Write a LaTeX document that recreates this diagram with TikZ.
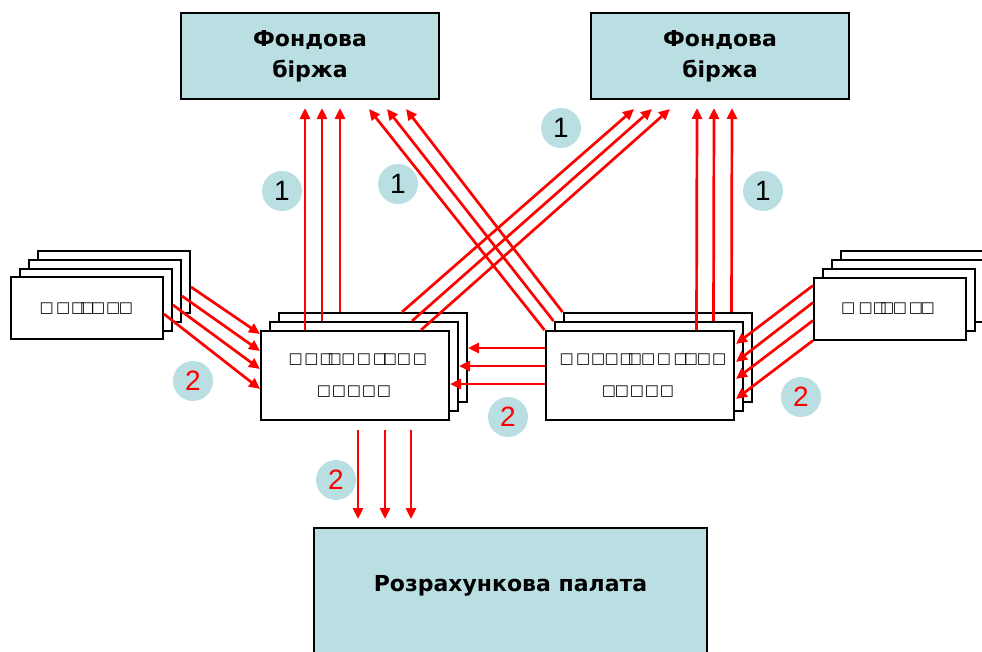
\documentclass[tikz,border=0pt]{standalone}
\usepackage{fontspec}
\setmainfont{DejaVu Sans}
\newfontfamily\numfont{Liberation Sans}
\newfontfamily\glyphfont{DejaVu Sans}
\usetikzlibrary{arrows.meta}
\definecolor{boxblue}{HTML}{BADFE3}
\definecolor{arrred}{HTML}{FF0000}
\begin{document}
\begin{tikzpicture}[x=1pt,y=-1pt,
  hub/.style={draw=black, line width=2pt, fill=boxblue, inner sep=0pt,
    font=\bfseries\fontsize{22}{31}\selectfont, align=center},
  card/.style={draw=black, line width=2pt, fill=white, inner sep=0pt,
    minimum width=188pt, minimum height=89pt},
  minicard/.style={draw=black, line width=2pt, fill=white, inner sep=0pt,
    minimum width=152pt, minimum height=62pt},
  tofu/.style={font=\glyphfont\bfseries\fontsize{15}{15}\selectfont, inner sep=0pt},
  flow/.style={draw=arrred, line width=2.7pt, -{Triangle[length=11pt,width=10pt]}},
  badge/.style={circle, fill=boxblue, minimum size=40pt, inner sep=0pt,
    font=\numfont\fontsize{28}{28}\selectfont},
]
\useasboundingbox (0,0) rectangle (982,651);
\clip (0,0) rectangle (982,651);

% top and bottom boxes
\node[hub, minimum width=258pt, minimum height=86pt] (fbL) at (310,56) {Фондова\\біржа};
\node[hub, minimum width=258pt, minimum height=86pt] (fbR) at (720,56) {Фондова\\біржа};
\node[hub, minimum width=393pt, text height=63pt, text depth=117pt, anchor=north] (rp) at (510.5,527) {Розрахункова палата};

% left small stack
\node[minicard] (ls4) at (114,282) {};
\node[minicard] (ls3) at (105,291) {};
\node[minicard] (ls2) at (96,300) {};
\node[minicard] (ls1) at (87,308) {};
% right small stack
\node[minicard] (rs4) at (917,282) {};
\node[minicard] (rs3) at (908,291) {};
\node[minicard] (rs2) at (899,300) {};
\node[minicard] (rs1) at (890,308.5) {};
% left centre stack
\node[card] (lc3) at (373,357.5) {};
\node[card] (lc2) at (364,366.5) {};
\node[card] (lc1) at (355,375.5) {};
% right centre stack
\node[card] (rc3) at (657.5,357.5) {};
\node[card] (rc2) at (648.5,366.5) {};
\node[card] (rc1) at (639.5,375.5) {};

% unreadable glyphs
\foreach \x [count=\i] in {46.7,63.3,78.3,87.3,98.3,113.3,126}
  \node[tofu] (lsA\i) at (\x,309) {□};
\foreach \x [count=\i] in {848.3,865.7,880,887.3,900,916,927.7}
  \node[tofu] (rsA\i) at (\x,309) {□};
\foreach \x [count=\i] in {295.8,311.5,326.8,334.7,348.5,364,380,390,404,420}
  \node[tofu] (lcA\i) at (\x,360) {□};
\foreach \x [count=\i] in {324,339,354,369,384}
  \node[tofu] (lcB\i) at (\x,392) {□};
\foreach \x [count=\i] in {566.7,583.3,598.3,611.7,626.7,635,648.3,664,680.7,691,704,719.3}
  \node[tofu] (rcA\i) at (\x,360) {□};
\foreach \x [count=\i] in {609,622,637,652,667}
  \node[tofu] (rcB\i) at (\x,392) {□};

% vertical arrows up (left)
\draw[flow] ([xshift=45pt]lc1.north west) -- ([xshift=125pt,yshift=-8pt]fbL.south west);
\draw[flow] ([xshift=53pt]lc2.north west) -- ([xshift=142pt,yshift=-8pt]fbL.south west);
\draw[flow] ([xshift=62pt]lc3.north west) -- ([xshift=160pt,yshift=-8pt]fbL.south west);
% vertical arrows up (right)
\draw[flow] ([xshift=152pt]rc1.north west) -- ([xshift=107pt,yshift=-8pt]fbR.south west);
\draw[flow] ([xshift=160pt]rc2.north west) -- ([xshift=124pt,yshift=-8pt]fbR.south west);
\draw[flow] ([xshift=169pt]rc3.north west) -- ([xshift=142pt,yshift=-8pt]fbR.south west);
% diagonals left centre -> right exchange
\draw[flow] ([xshift=124pt]lc3.north west) -- ([xshift=44pt,yshift=-9pt]fbR.south west);
\draw[flow] ([xshift=143pt]lc2.north west) -- ([xshift=62pt,yshift=-9pt]fbR.south west);
\draw[flow] ([xshift=161pt]lc1.north west) -- ([xshift=80pt,yshift=-9pt]fbR.south west);
% diagonals right centre -> left exchange
\draw[flow] (rc3.north west) -- ([xshift=226pt,yshift=-9pt]fbL.south west);
\draw[flow] (rc2.north west) -- ([xshift=207pt,yshift=-9pt]fbL.south west);
\draw[flow] (rc1.north west) -- ([xshift=189pt,yshift=-9pt]fbL.south west);
% left small stack -> left centre
\draw[flow] ([yshift=27pt]ls4.south east) -- ([yshift=-4pt]lc1.north west);
\draw[flow] ([yshift=27pt]ls3.south east) -- ([yshift=-21pt]lc1.north west);
\draw[flow] ([yshift=27pt]ls2.south east) -- ([yshift=-39pt]lc1.north west);
\draw[flow] ([yshift=26pt]ls1.south east) -- ([yshift=-59pt]lc1.north west);
% right small stack -> right centre
\draw[flow] ([yshift=-9pt]rs1.north west) -- ([xshift=1.5pt,yshift=-14pt]rc1.north east);
\draw[flow] ([yshift=-26pt]rs1.north west) -- ([xshift=1.5pt,yshift=-32pt]rc1.north east);
\draw[flow] ([yshift=-44pt]rs1.north west) -- ([xshift=1.5pt,yshift=-49pt]rc1.north east);
\draw[flow] (rs1.south west) -- ([xshift=1.5pt,yshift=-69pt]rc1.north east);
% right centre -> left centre
\coordinate (h1) at ([yshift=-18pt]rc1.north west);
\coordinate (h2) at ([yshift=-36pt]rc1.north west);
\coordinate (h3) at ([yshift=-54pt]rc1.north west);
\draw[flow] (h1) -- (h1 -| lc3.east);
\draw[flow] (h2) -- (h2 -| lc2.east);
\draw[flow] (h3) -- (h3 -| lc1.east);
% left centre -> clearing house
\draw[flow] ([xshift=98pt,yshift=-9pt]lc1.south west) -- ([xshift=45pt,yshift=8pt]rp.north west);
\draw[flow] ([xshift=125pt,yshift=-9pt]lc1.south west) -- ([xshift=72pt,yshift=8pt]rp.north west);
\draw[flow] ([xshift=151pt,yshift=-9pt]lc1.south west) -- ([xshift=98pt,yshift=8pt]rp.north west);

% badges
\node[badge] (b1a) at (282,191) {1};
\node[badge] (b1b) at (398,184) {1};
\node[badge] (b1c) at (561,128) {1};
\node[badge] (b1d) at (763,191) {1};
\node[badge, text=arrred] (b2a) at (193,381) {2};
\node[badge, text=arrred] (b2b) at (508,417) {2};
\node[badge, text=arrred] (b2c) at (801,397) {2};
\node[badge, text=arrred] (b2d) at (336,480) {2};
\end{tikzpicture}
\end{document}
